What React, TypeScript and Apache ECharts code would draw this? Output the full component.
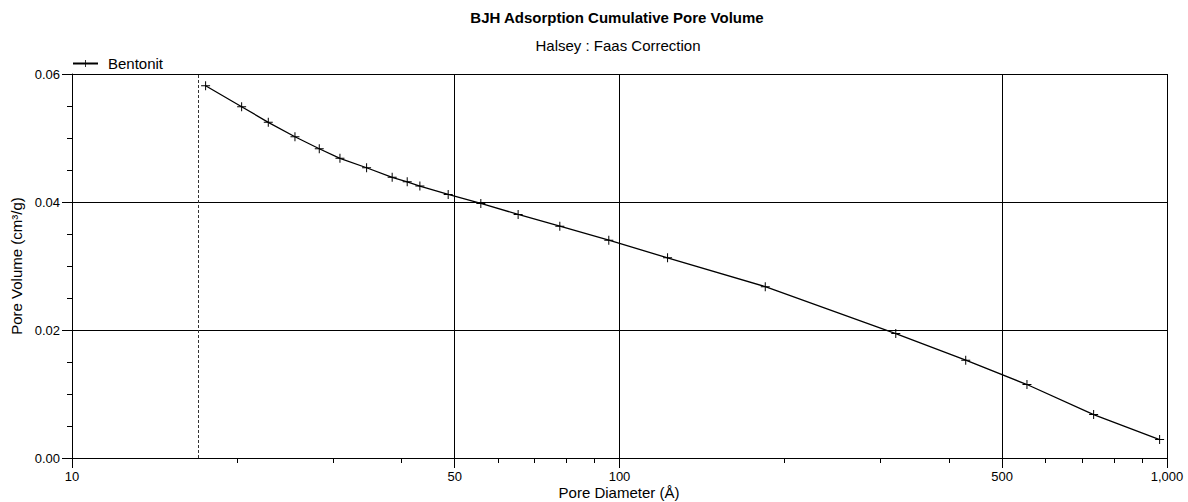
import React, { useEffect, useRef } from 'react';
import * as echarts from 'echarts';

// ---- data ----
const poreDiameter = [
  17.54, 20.41, 22.83, 25.54, 28.29, 30.86, 34.52, 38.44, 40.95, 43.19, 48.65,
  55.81, 65.29, 77.8, 95.6, 122.4, 184.6, 319.6, 428.9, 554.9, 734.5, 969.4,
];
const poreVolume = [
  0.05817, 0.05489, 0.05245, 0.0502, 0.04832, 0.04682, 0.04535, 0.04385, 0.04316,
  0.04249, 0.04119, 0.03978, 0.03806, 0.03623, 0.03404, 0.03127, 0.02677, 0.01945,
  0.01528, 0.01148, 0.00679, 0.00288,
];
const xMajorTicks = [10, 50, 100, 500, 1000];
const xMinorTicks = [20, 30, 40, 60, 70, 80, 90, 200, 300, 400, 600, 700, 800, 900];
const yMin = 0;
const yMax = 0.06;
const yInterval = 0.02;
const cutoffDiameter = 17;
const seriesName = 'Bentonit';
const titleText = 'BJH Adsorption Cumulative Pore Volume';
const subtitleText = 'Halsey : Faas Correction';
const xAxisName = 'Pore Diameter (Å)';
const yAxisName = 'Pore Volume (cm³/g)';

const FONT = '"Liberation Sans", Arial, Helvetica, sans-serif';
const PLUS = 'path://M4,0H5V9H4Z M0,4H9V5H0Z';

export default function App() {
  const ref = useRef<HTMLDivElement>(null);

  useEffect(() => {
    if (!ref.current) return;
    const chart = echarts.init(ref.current, undefined, { renderer: 'svg' });
    const points = poreDiameter.map((d, i) => [d, poreVolume[i]]);

    chart.setOption({
      animation: false,
      backgroundColor: '#fff',
      textStyle: { fontFamily: FONT, color: '#000' },
      graphic: [
        {
          type: 'text',
          x: 617,
          y: 17,
          style: {
            text: titleText,
            textAlign: 'center',
            textVerticalAlign: 'middle',
            font: `bold 15px ${FONT}`,
            fill: '#000',
          },
        },
        {
          type: 'text',
          x: 618,
          y: 45,
          style: {
            text: subtitleText,
            textAlign: 'center',
            textVerticalAlign: 'middle',
            font: `15px ${FONT}`,
            fill: '#000',
          },
        },
        {
          type: 'text',
          x: 619,
          y: 492,
          style: {
            text: xAxisName,
            textAlign: 'center',
            textVerticalAlign: 'middle',
            font: `15px ${FONT}`,
            fill: '#000',
          },
        },
      ],
      legend: {
        data: [seriesName],
        left: 72,
        top: 56,
        itemWidth: 25,
        itemHeight: 9,
        padding: 0,
        textStyle: { fontFamily: FONT, fontSize: 15, color: '#000', padding: [0, 0, 0, 5] },
      },
      grid: {
        left: 72,
        right: 21,
        top: 74,
        bottom: 44,
        containLabel: false,
        outerBoundsMode: 'none',
      },
      xAxis: [
        {
          type: 'log',
          logBase: 10,
          min: 10,
          max: 1000,
          position: 'bottom',
          axisLine: { show: true, onZero: false, lineStyle: { color: '#000', width: 1 } },
          axisTick: {
            show: true,
            length: 10,
            customValues: xMajorTicks,
            lineStyle: { color: '#000', width: 1 },
          },
          minorTick: { show: false },
          axisLabel: {
            show: true,
            customValues: xMajorTicks,
            margin: 12,
            fontFamily: FONT,
            fontSize: 13,
            color: '#000',
            formatter: (v: number) => Number(v).toLocaleString('en-US'),
          },
          splitLine: {
            show: true,
            showMinLine: true,
            showMaxLine: true,
            lineStyle: { color: '#000', width: 1 },
          },
        },
        {
          type: 'log',
          logBase: 10,
          min: 10,
          max: 1000,
          position: 'bottom',
          axisLine: { show: false },
          axisTick: {
            show: true,
            length: 5,
            customValues: xMinorTicks,
            lineStyle: { color: '#000', width: 1 },
          },
          axisLabel: { show: false },
          splitLine: { show: false },
        },
      ],
      yAxis: {
        type: 'value',
        min: yMin,
        max: yMax,
        interval: yInterval,
        name: yAxisName,
        nameLocation: 'middle',
        nameGap: 46,
        nameTextStyle: { fontFamily: FONT, fontSize: 15, color: '#000' },
        axisLine: { show: true, lineStyle: { color: '#000', width: 1 } },
        axisTick: { show: true, length: 10, lineStyle: { color: '#000', width: 1 } },
        minorTick: { show: true, splitNumber: 4, length: 5, lineStyle: { color: '#000', width: 1 } },
        axisLabel: {
          margin: 12,
          fontFamily: FONT,
          fontSize: 13,
          color: '#000',
          formatter: (v: number) => Number(v).toFixed(2),
        },
        splitLine: {
          show: true,
          showMinLine: true,
          showMaxLine: true,
          lineStyle: { color: '#000', width: 1 },
        },
      },
      series: [
        {
          name: seriesName,
          type: 'line',
          xAxisIndex: 0,
          yAxisIndex: 0,
          data: points,
          symbol: PLUS,
          symbolSize: 9,
          showSymbol: true,
          lineStyle: { color: '#000', width: 1.3 },
          itemStyle: { color: '#000', borderWidth: 0 },
          markLine: {
            silent: true,
            symbol: ['none', 'none'],
            label: { show: false },
            lineStyle: { color: '#333', width: 1, type: [3, 2] },
            data: [{ xAxis: cutoffDiameter }],
          },
        },
      ],
    });

    return () => chart.dispose();
  }, []);

  return (
    <div
      ref={ref}
      style={{ position: 'absolute', left: 0, top: 0, width: 1188, height: 502 }}
    />
  );
}
